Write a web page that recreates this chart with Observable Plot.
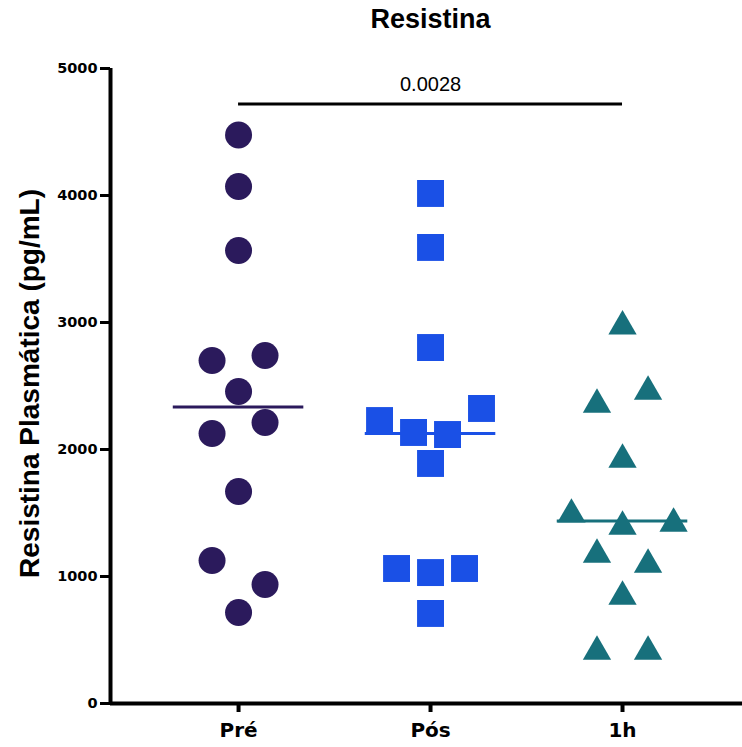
<!DOCTYPE html>
<html><head><meta charset="utf-8">
<script src="https://cdn.jsdelivr.net/npm/d3@7"></script>
<script src="https://cdn.jsdelivr.net/npm/@observablehq/plot@0.6"></script>
<style>body{margin:0;background:#fff;}</style>
</head><body><div id="chart"></div>
<script>
const title = "Resistina";
const yLabel = "Resistina Plasmática (pg/mL)";
const groups = ["Pré", "Pós", "1h"];
const yTicks = [0, 1000, 2000, 3000, 4000, 5000];
const preValues = [4476, 4071, 3567, 2740, 2701, 2457, 2213, 2126, 1669, 1126, 937, 717];
const preSpread = [0, 0, 0, 1, -1, 0, 1, -1, 0, -1, 1, 0];
const posValues = [4016, 3591, 2803, 2323, 2228, 2134, 2118, 1890, 1063, 1031, 1063, 709];
const posSpread = [0, 0, 0, 3, -3, -1, 1, 0, -2, 0, 2, 0];
const h1Values = [3002, 2488, 2386, 1953, 1520, 1449, 1425, 1205, 1126, 874, 441, 441];
const h1Spread = [0, 1, -1, 0, -2, 2, 0, -1, 1, 0, -1, 1];
const pValue = "0.0028";
const bracketFrom = "Pré", bracketTo = "1h";
const bracketLevel = 4720;

// styling / layout
const colors = ["#2b1a5c", "#1a50e6", "#17707c"];
const spreadStep = [0.138, 0.0885, 0.133];
const xDomain = [-0.667, 2.625];
const fontArial = "'Liberation Sans', Arial, sans-serif";
const fontWide = "'DejaVu Sans', Verdana, sans-serif";

const allValues = [preValues, posValues, h1Values];
const allSpread = [preSpread, posSpread, h1Spread];
const rows = [];
allValues.forEach((vals, g) => vals.forEach((v, i) =>
  rows.push({g, group: groups[g], value: v, xp: g + allSpread[g][i] * spreadStep[g]})));
const medians = groups.map((name, g) => ({g, group: name, median: d3.median(allValues[g])}));

const chart = Plot.plot({
  width: 742, height: 747,
  marginLeft: 110, marginRight: 0, marginTop: 68, marginBottom: 44,
  style: {fontFamily: fontArial, background: "#fff", color: "#000"},
  x: {domain: xDomain, axis: null},
  y: {domain: [0, 5000], axis: null},
  marks: [
    Plot.ruleY(medians, {y: "median", x1: d => d.g - 0.34, x2: d => d.g + 0.34,
      stroke: d => colors[d.g], strokeWidth: 3}),
    Plot.dot(rows.filter(d => d.g === 0), {x: "xp", y: "value", symbol: "circle", r: 13.5, fill: colors[0], stroke: "none"}),
    Plot.dot(rows.filter(d => d.g === 1), {x: "xp", y: "value", symbol: "square", r: 15.2, fill: colors[1], stroke: "none"}),
    Plot.dot(rows.filter(d => d.g === 2), {x: "xp", y: "value", symbol: "triangle", r: 10.5, dy: 4, fill: colors[2], stroke: "none"}),
    Plot.ruleX([xDomain[0]], {y1: () => 0, y2: () => 5000, strokeWidth: 4, stroke: "#000"}),
    Plot.ruleY([0], {x1: () => xDomain[0], x2: () => xDomain[1], strokeWidth: 4, stroke: "#000"}),
    Plot.axisY({ticks: yTicks, tickSize: 10, tickPadding: 3, fontSize: 14.5, fontWeight: "bold",
      fontFamily: fontWide, strokeWidth: 3, label: null, tickFormat: d => String(d)}),
    Plot.axisX({ticks: [0, 1, 2], tickFormat: i => groups[i], tickSize: 9, tickPadding: 10,
      fontSize: 20, fontWeight: "bold", fontFamily: fontWide, strokeWidth: 4, label: null}),
    Plot.ruleY([bracketLevel], {x1: () => groups.indexOf(bracketFrom), x2: () => groups.indexOf(bracketTo), strokeWidth: 3, stroke: "#000"}),
    Plot.text([pValue], {x: () => (groups.indexOf(bracketFrom) + groups.indexOf(bracketTo)) / 2, y: () => bracketLevel, dy: -19, fontSize: 20}),
    Plot.text([title], {x: () => 1, y: () => 5000, dy: -49, fontSize: 27, fontWeight: "bold"}),
    Plot.text([yLabel], {x: () => xDomain[0], y: () => 2520, dx: -80, rotate: -90, fontSize: 28, fontWeight: "bold"})
  ]
});
document.getElementById("chart").appendChild(chart);
</script>
</body></html>
